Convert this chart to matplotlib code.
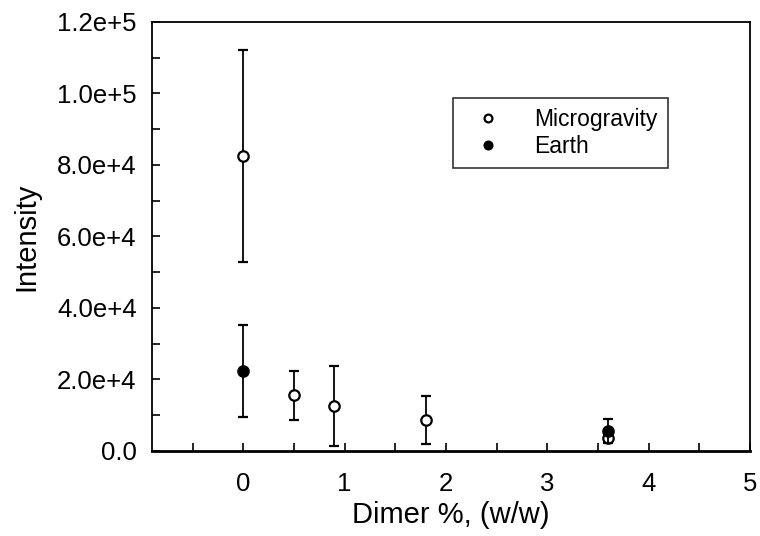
import matplotlib
matplotlib.use("Agg")
import matplotlib.pyplot as plt
from matplotlib.ticker import MultipleLocator, FuncFormatter

plt.rcParams['font.family'] = ['Liberation Sans', 'DejaVu Sans']

# Microgravity data
micro_x = [0, 0.5, 0.9, 1.8, 3.6]
micro_y = [82500, 15500, 12500, 8600, 3600]
micro_err = [29600, 6800, 11100, 6600, 1000]

# Earth data
earth_x = [0, 3.6]
earth_y = [22300, 5500]
earth_err = [12800, 3300]

x_ticks = [0, 1, 2, 3, 4, 5]


def sci_fmt(v, pos):
    if v == 0:
        return "0.0"
    s = "%.1e" % v
    mant, exp = s.split("e")
    return "%se+%d" % (mant, int(exp))


fig = plt.figure(figsize=(7.6, 5.36), dpi=100)
ax = fig.add_axes([0.2, 0.159, 0.787, 0.8])

ax.errorbar(micro_x, micro_y, yerr=micro_err, fmt='o', mfc='white', mec='black',
            ecolor='black', ms=7.5, mew=1.6, elinewidth=1.3, capsize=3.5, capthick=1.5,
            label='Microgravity', zorder=3)
ax.errorbar(earth_x, earth_y, yerr=earth_err, fmt='o', mfc='black', mec='black',
            ecolor='black', ms=7.5, mew=1.6, elinewidth=1.3, capsize=3.5, capthick=1.5,
            label='Earth', zorder=4)

ax.set_xlim(-0.9, 5)
ax.set_ylim(0, 120000)
ax.set_xticks(x_ticks)
ax.xaxis.set_minor_locator(MultipleLocator(0.5))
ax.yaxis.set_major_locator(MultipleLocator(20000))
ax.yaxis.set_minor_locator(MultipleLocator(10000))
ax.yaxis.set_major_formatter(FuncFormatter(sci_fmt))

ax.tick_params(which='both', direction='in', length=6, width=1.2, top=False, right=False)
ax.tick_params(axis='x', which='major', labelsize=18.5, pad=15)
ax.tick_params(axis='y', which='major', labelsize=18.5, pad=11)
for sp in ax.spines.values():
    sp.set_linewidth(1.3)
ax.spines['bottom'].set_linewidth(2)

ax.set_xlabel("Dimer %, (w/w)", fontsize=21, labelpad=4)
ax.set_ylabel("Intensity", fontsize=21, labelpad=12)

handles, labels = ax.get_legend_handles_labels()
handles = [h[0] for h in handles]
leg = ax.legend(handles, labels, loc='upper left', bbox_to_anchor=(0.503, 0.823),
                fontsize=16.5, frameon=True, fancybox=False, edgecolor='black',
                borderpad=0.45, handletextpad=0.9, labelspacing=0.15, handlelength=2.2,
                markerscale=0.75, borderaxespad=0)
leg.get_frame().set_linewidth(1.2)

fig.savefig("out.png", dpi=100)
